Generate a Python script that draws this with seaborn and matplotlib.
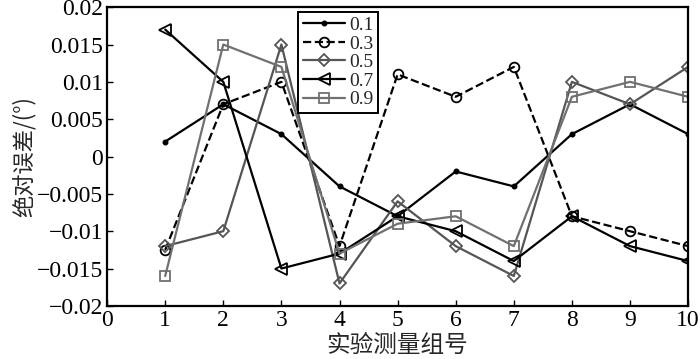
import numpy as np
import pandas as pd
import matplotlib
matplotlib.use("Agg")
import matplotlib.pyplot as plt
import seaborn as sns

groups = [1, 2, 3, 4, 5, 6, 7, 8, 9, 10]
s01 = [0.002, 0.007, 0.003, -0.004, -0.008, -0.002, -0.004, 0.003, 0.007, 0.003]
s03 = [-0.0125, 0.007, 0.010, -0.012, 0.011, 0.008, 0.012, -0.008, -0.010, -0.012]
s05 = [-0.012, -0.010, 0.015, -0.017, -0.006, -0.012, -0.016, 0.010, 0.007, 0.012]
s07 = [0.017, 0.010, -0.015, -0.013, -0.008, -0.010, -0.014, -0.008, -0.012, -0.014]
s09 = [-0.016, 0.015, 0.012, -0.013, -0.009, -0.008, -0.012, 0.008, 0.010, 0.008]
labels = ["0.1", "0.3", "0.5", "0.7", "0.9"]
xticks = [0, 1, 2, 3, 4, 5, 6, 7, 8, 9, 10]
yticks = [-0.02, -0.015, -0.01, -0.005, 0, 0.005, 0.01, 0.015, 0.02]
ytick_labels = ["\u22120.02", "\u22120.015", "\u22120.01", "\u22120.005", "0",
                "0.005", "0.01", "0.015", "0.02"]

sns.set_style("ticks")
plt.rcParams['font.family'] = ['Liberation Serif', 'Noto Sans CJK SC', 'DejaVu Sans']
plt.rcParams['axes.unicode_minus'] = True

df = pd.DataFrame({
    "x": groups * 5,
    "y": s01 + s03 + s05 + s07 + s09,
    "series": sum([[l] * len(groups) for l in labels], []),
})

styles = {
    "0.1": dict(color="black", marker=".", ls="-", ms=6, mfc="black"),
    "0.3": dict(color="black", marker="o", ls="--", ms=7, mfc="none"),
    "0.5": dict(color="#555555", marker="D", ls="-", ms=6, mfc="none"),
    "0.7": dict(color="black", marker="<", ls="-", ms=8, mfc="none"),
    "0.9": dict(color="#707070", marker="s", ls="-", ms=7, mfc="none"),
}

fig = plt.figure(figsize=(7.0, 3.59), dpi=100)
ax = fig.add_axes([0.153, 0.148, 0.830, 0.832])

for lab in labels:
    st = styles[lab]
    sub = df[df["series"] == lab]
    sns.lineplot(data=sub, x="x", y="y", ax=ax, color=st["color"], marker=st["marker"],
                 linestyle=st["ls"], markersize=st["ms"], markerfacecolor=st["mfc"],
                 markeredgecolor=st["color"], markeredgewidth=1.3, linewidth=1.6,
                 label=lab, errorbar=None)

ax.set_xlim(0, 10)
ax.set_ylim(-0.02, 0.02)
ax.set_xticks(xticks)
ax.set_xticklabels([str(t) for t in xticks])
ax.set_yticks(yticks)
ax.set_yticklabels(ytick_labels)
ax.tick_params(direction="in", length=4, width=1, labelsize=17, top=False, right=False,
               colors="black", pad=3)
for sp in ax.spines.values():
    sp.set_visible(True)
    sp.set_linewidth(1.6)
    sp.set_color("black")

ax.set_xlabel("实验测量组号", fontsize=17, family=['Noto Sans CJK SC', 'DejaVu Sans'], labelpad=2)
ax.set_ylabel("绝对误差/(°)", fontsize=16, family=['Noto Sans CJK SC', 'DejaVu Sans'], labelpad=1)

leg = ax.legend(loc="upper left", bbox_to_anchor=(0.328, 0.985), fontsize=14,
                frameon=True, fancybox=False, borderpad=0.25, labelspacing=0.05,
                handlelength=2.2, handletextpad=0.2, borderaxespad=0)
leg.get_frame().set_edgecolor("black")
leg.get_frame().set_linewidth(1.4)
leg.get_frame().set_alpha(1)

fig.savefig("out.png", dpi=100)
